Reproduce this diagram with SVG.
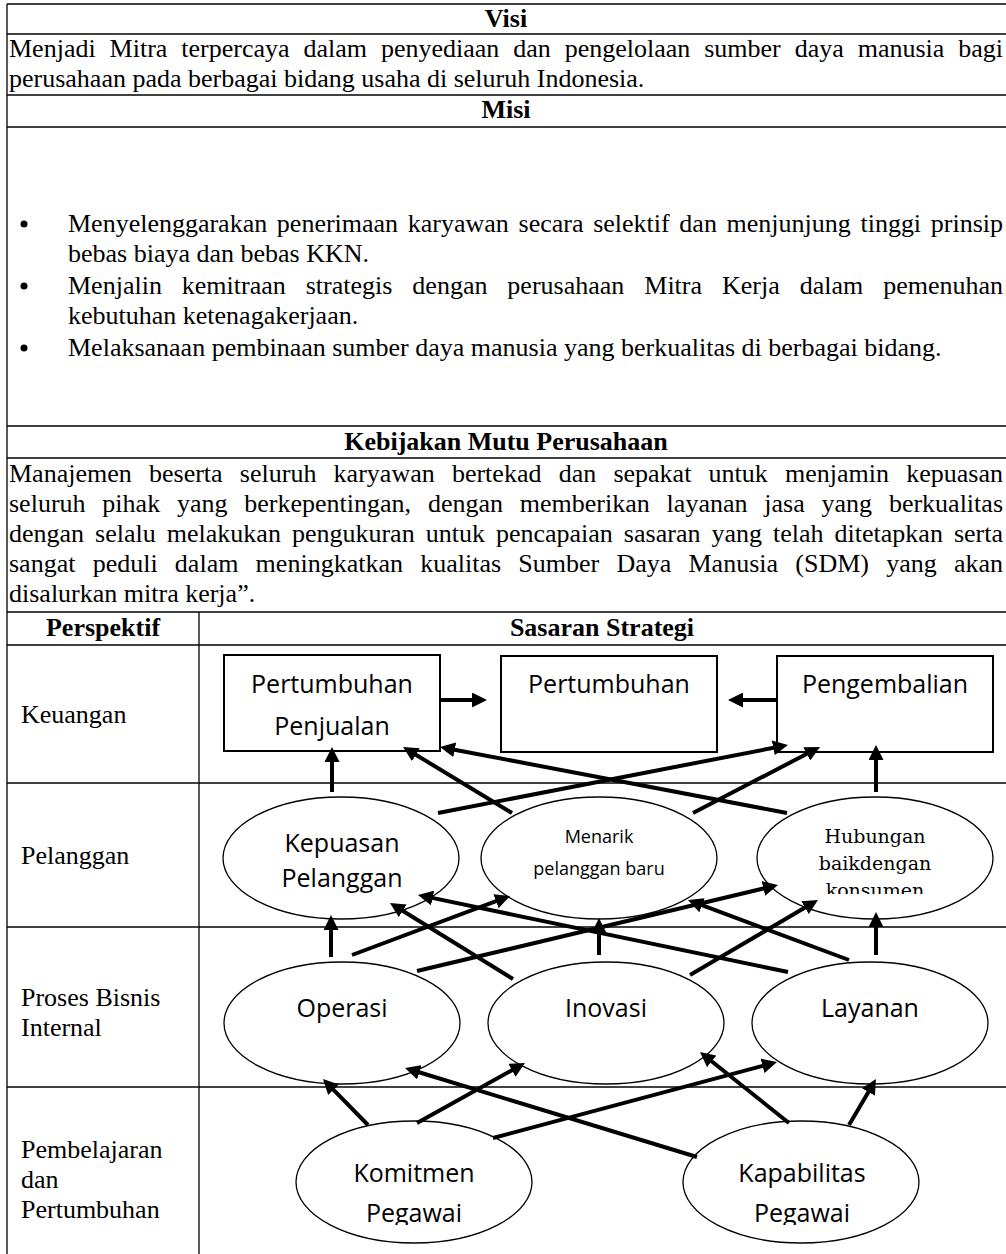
<svg xmlns="http://www.w3.org/2000/svg" width="1006" height="1254" viewBox="0 0 1006 1254">
<style>
.t{font-family:"Liberation Serif","Times New Roman",serif;font-size:26px;fill:#000}
.b{font-weight:bold;text-anchor:middle}
.d{font-family:"Open Sans","Liberation Sans",sans-serif;font-size:25px;fill:#000;text-anchor:middle}
.ds{font-size:18px}
.hs{font-family:"DejaVu Serif",serif;font-size:19px;fill:#000;text-anchor:middle}
.grid line{stroke:#000;stroke-width:1.3}
.box{fill:#fff;stroke:#000;stroke-width:2}
.ell{fill:#fff;stroke:#000;stroke-width:1.3}
.conn line{stroke:#000;stroke-width:4;marker-end:url(#ah)}
</style>
<defs>
<marker id="ah" markerUnits="userSpaceOnUse" viewBox="0 0 15 15" markerWidth="15" markerHeight="15" refX="3" refY="7.5" orient="auto"><path d="M0,0 L15,7.5 L0,15 z" fill="#000"/></marker>
<clipPath id="cpHub"><rect x="757" y="797" width="236" height="97"/></clipPath>
<clipPath id="cpPeg"><rect x="0" y="1100" width="1006" height="125"/></clipPath>
</defs>
<rect width="1006" height="1254" fill="#fff"/>
<g class="grid" id="table">
<line x1="7" y1="4" x2="1006" y2="4"/>
<line x1="7" y1="34" x2="1006" y2="34"/>
<line x1="7" y1="95" x2="1006" y2="95"/>
<line x1="7" y1="127" x2="1006" y2="127"/>
<line x1="7" y1="426" x2="1006" y2="426"/>
<line x1="7" y1="458" x2="1006" y2="458"/>
<line x1="7" y1="612" x2="1006" y2="612"/>
<line x1="7" y1="645" x2="1006" y2="645"/>
<line x1="7" y1="783" x2="1006" y2="783"/>
<line x1="7" y1="927" x2="1006" y2="927"/>
<line x1="7" y1="1087" x2="1006" y2="1087"/>
<line x1="7" y1="4" x2="7" y2="1254"/>
<line x1="199" y1="612" x2="199" y2="1254"/>
</g>
<g id="texts">
<text class="t b" x="506" y="27">Visi</text>
<text class="t" x="9" y="57" word-spacing="7.4" textLength="994" lengthAdjust="spacing">Menjadi Mitra terpercaya dalam penyediaan dan pengelolaan sumber daya manusia bagi</text>
<text class="t" x="9" y="87">perusahaan pada berbagai bidang usaha di seluruh Indonesia.</text>
<text class="t b" x="506" y="118">Misi</text>
<circle cx="24" cy="224" r="3.5"/>
<text class="t" x="68" y="232" word-spacing="3.2" textLength="935" lengthAdjust="spacing">Menyelenggarakan penerimaan karyawan secara selektif dan menjunjung tinggi prinsip</text>
<text class="t" x="68" y="262">bebas biaya dan bebas KKN.</text>
<circle cx="24" cy="286" r="3.5"/>
<text class="t" x="68" y="294" word-spacing="13.4" textLength="935" lengthAdjust="spacing">Menjalin kemitraan strategis dengan perusahaan Mitra Kerja dalam pemenuhan</text>
<text class="t" x="68" y="324">kebutuhan ketenagakerjaan.</text>
<circle cx="24" cy="348" r="3.5"/>
<text class="t" x="68" y="356">Melaksanaan pembinaan sumber daya manusia yang berkualitas di berbagai bidang.</text>
<text class="t b" x="506" y="450">Kebijakan Mutu Perusahaan</text>
<text class="t" x="9" y="482" word-spacing="10.7" textLength="994" lengthAdjust="spacing">Manajemen beserta seluruh karyawan bertekad dan sepakat untuk menjamin kepuasan</text>
<text class="t" x="9" y="512" word-spacing="10.3" textLength="994" lengthAdjust="spacing">seluruh pihak yang berkepentingan, dengan memberikan layanan jasa yang berkualitas</text>
<text class="t" x="9" y="542" word-spacing="4.5" textLength="994" lengthAdjust="spacing">dengan selalu melakukan pengukuran untuk pencapaian sasaran yang telah ditetapkan serta</text>
<text class="t" x="9" y="572" word-spacing="10.7" textLength="994" lengthAdjust="spacing">sangat peduli dalam meningkatkan kualitas Sumber Daya Manusia (SDM) yang akan</text>
<text class="t" x="9" y="602">disalurkan mitra kerja”.</text>
<text class="t b" x="103" y="636">Perspektif</text>
<text class="t b" x="602" y="636">Sasaran Strategi</text>
<text class="t" x="21" y="723">Keuangan</text>
<text class="t" x="21" y="864">Pelanggan</text>
<text class="t" x="21" y="1006">Proses Bisnis</text>
<text class="t" x="21" y="1036">Internal</text>
<text class="t" x="21" y="1158">Pembelajaran</text>
<text class="t" x="21" y="1188">dan</text>
<text class="t" x="21" y="1218">Pertumbuhan</text>
</g>
<g id="n-pertumbuhan-penjualan"><rect class="box" x="224" y="655" width="216" height="96"/><text class="d" x="332" y="693">Pertumbuhan</text><text class="d" x="332" y="735">Penjualan</text></g>
<g id="n-pertumbuhan"><rect class="box" x="501" y="656" width="216" height="96"/><text class="d" x="609" y="693">Pertumbuhan</text></g>
<g id="n-pengembalian"><rect class="box" x="777" y="656" width="216" height="96"/><text class="d" x="885" y="693">Pengembalian</text></g>
<g id="n-kepuasan"><ellipse class="ell" cx="341" cy="858" rx="118" ry="61"/><text class="d" x="342" y="852">Kepuasan</text><text class="d" x="342" y="887">Pelanggan</text></g>
<g id="n-menarik"><ellipse class="ell" cx="599" cy="858" rx="118" ry="61"/><text class="d ds" x="599" y="843">Menarik</text><text class="d ds" x="599" y="875">pelanggan baru</text></g>
<g id="n-hubungan"><ellipse class="ell" cx="875" cy="858" rx="118" ry="61"/><g clip-path="url(#cpHub)"><text class="hs" x="875" y="843">Hubungan</text><text class="hs" x="875" y="870">baikdengan</text><text class="hs" x="875" y="897">konsumen</text></g></g>
<g id="n-operasi"><ellipse class="ell" cx="342" cy="1023" rx="118" ry="61"/><text class="d" x="342" y="1017">Operasi</text></g>
<g id="n-inovasi"><ellipse class="ell" cx="606" cy="1023" rx="118" ry="61"/><text class="d" x="606" y="1017">Inovasi</text></g>
<g id="n-layanan"><ellipse class="ell" cx="870" cy="1023" rx="118" ry="61"/><text class="d" x="870" y="1017">Layanan</text></g>
<g id="n-komitmen"><ellipse class="ell" cx="414" cy="1182" rx="118" ry="61"/><g clip-path="url(#cpPeg)"><text class="d" x="414" y="1182">Komitmen</text><text class="d" x="414" y="1222">Pegawai</text></g></g>
<g id="n-kapabilitas"><ellipse class="ell" cx="801" cy="1182" rx="118" ry="61"/><g clip-path="url(#cpPeg)"><text class="d" x="802" y="1182">Kapabilitas</text><text class="d" x="802" y="1222">Pegawai</text></g></g>
<g class="conn" id="connectors">
<line x1="440" y1="700" x2="475" y2="700"/>
<line x1="777" y1="700" x2="740" y2="700"/>
<line x1="332" y1="792" x2="332" y2="759"/>
<line x1="512" y1="813" x2="413.3" y2="753.2"/>
<line x1="787" y1="813" x2="451.8" y2="749.2"/>
<line x1="438" y1="813" x2="776.2" y2="747.3"/>
<line x1="693" y1="813" x2="809.4" y2="752.5"/>
<line x1="876" y1="792" x2="876" y2="757"/>
<line x1="331" y1="957" x2="331" y2="927"/>
<line x1="352" y1="955" x2="498.8" y2="900.2"/>
<line x1="417" y1="971" x2="766.3" y2="887.8"/>
<line x1="513" y1="979" x2="400.2" y2="909.3"/>
<line x1="599" y1="955" x2="599" y2="930"/>
<line x1="690" y1="975" x2="807.6" y2="906.1"/>
<line x1="788" y1="972" x2="429.7" y2="897.4"/>
<line x1="849" y1="960" x2="699.2" y2="904.2"/>
<line x1="876" y1="955" x2="876" y2="924"/>
<line x1="368" y1="1125" x2="331.4" y2="1087.6"/>
<line x1="417" y1="1123" x2="514.5" y2="1068.8"/>
<line x1="493" y1="1138" x2="765.4" y2="1065.1"/>
<line x1="697" y1="1157" x2="416.5" y2="1071.5"/>
<line x1="789" y1="1123" x2="709.4" y2="1059.5"/>
<line x1="849" y1="1125" x2="869.9" y2="1089.4"/>
</g>
</svg>
